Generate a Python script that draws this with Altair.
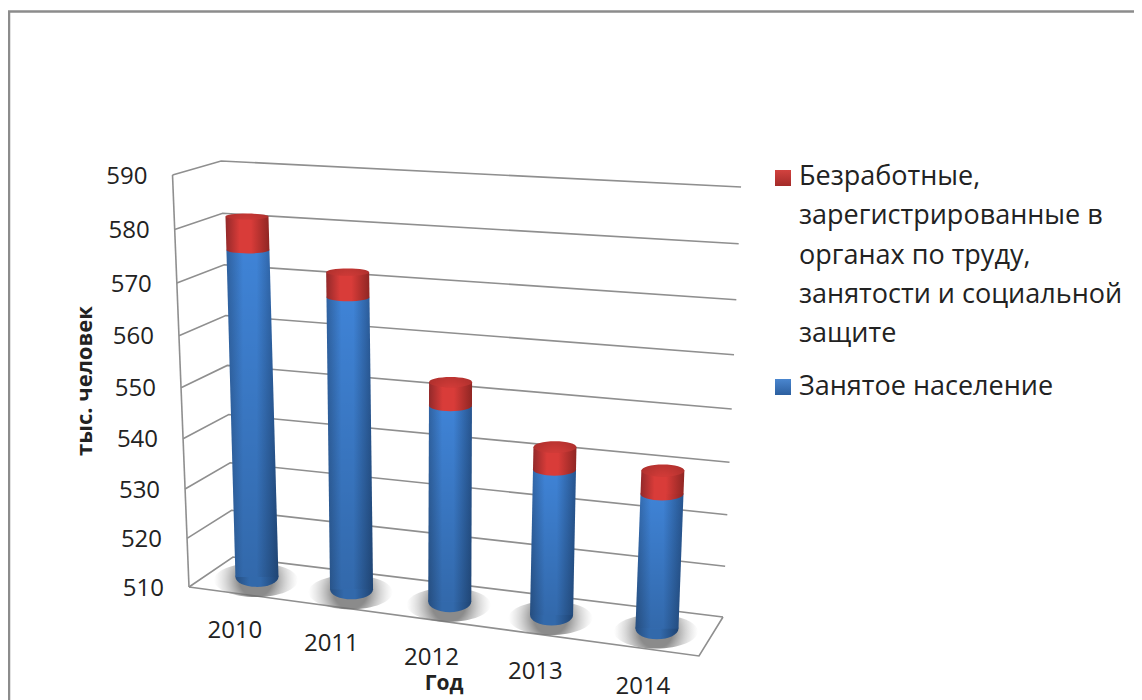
import altair as alt
import pandas as pd

# ---- chart values ----
YEARS = ["2010", "2011", "2012", "2013", "2014"]
EMPLOYED = [575.2, 567.7, 548.8, 538.6, 536.1]
UNEMPLOYED = [6.3, 4.7, 4.5, 4.3, 4.4]
TICKS = [510, 520, 530, 540, 550, 560, 570, 580, 590]
LEGEND_RED = ["Безработные,", "зарегистрированные в", "органах по труду,",
              "занятости и социальной", "защите"]
LEGEND_BLUE = ["Занятое население"]
Y_TITLE = "тыс. человек"
X_TITLE = "Год"

# ---- page and projection of the 3D box ----
W, H = 1126, 692
FONT = "Open Sans"
TXT = "#222222"
GRID = "#8f8f8f"
VMIN, VMAX = 510, 590
FL, FR, BL, BR = (189, 587), (699, 656), (233, 557), (723, 617)
HEIGHT = (412, 446, 396, 430)     # FL FR BL BR box height
LEAN = (-0.04, 0.05, -0.03, 0.042)
DEPTH = 0.5
RADIUS = 21.5


def bil(a, b, c, d, u, z):
    return (a * (1 - u) + b * u) * (1 - z) + (c * (1 - u) + d * u) * z


def warp_u(u):
    return u - 0.09 * u * (1 - u)


def warp_t(v):
    t = (v - VMIN) / (VMAX - VMIN)
    return t - 0.065 * t * (1 - t)


def project(u, z, v):
    fx = bil(FL[0], FR[0], BL[0], BR[0], u, z)
    fy = bil(FL[1], FR[1], BL[1], BR[1], u, z)
    h = bil(*HEIGHT, u, z) * warp_t(v)
    return fx + bil(*LEAN, u, z) * h, fy - h


def ellipse(k):
    return f"M-1,0A1,{k:.3f},0,1,1,1,0A1,{k:.3f},0,1,1,-1,0Z"


def ry_at(y):
    return 4 + (y - 220) / 60


# ---- tables ----
grid_rows = []
for v in TICKS:
    for i, (u, z) in enumerate([(0, 0), (0, 1), (1, 1)]):
        x, y = project(u, z, v)
        grid_rows.append(dict(id=f"g{v}", o=i, x=x, y=y))
for v_id, pts in [("floor", [(0, 0), (1, 0), (1, 1)])]:
    for i, (u, z) in enumerate(pts):
        x, y = project(u, z, VMIN)
        grid_rows.append(dict(id=v_id, o=i, x=x, y=y))
for i, v in enumerate([VMIN, VMAX]):
    x, y = project(0, 0, v)
    grid_rows.append(dict(id="axis", o=i, x=x, y=y))
grid = pd.DataFrame(grid_rows)

blue_rows, red_rows, base_rows, shadow_rows, mid_rows, cap_rows, cat_rows = [], [], [], [], [], [], []
for i, year in enumerate(YEARS):
    u = warp_u((i + 0.5) / len(YEARS))
    bx, by = project(u, DEPTH, VMIN)
    by -= 1
    mx, my = project(u, DEPTH, EMPLOYED[i])
    tx, ty = project(u, DEPTH, EMPLOYED[i] + UNEMPLOYED[i])
    for (x, y) in [(bx, by), (mx, my)]:
        blue_rows.append(dict(bar=year, y=y, xl=x - RADIUS, xr=x + RADIUS))
    for (x, y) in [(mx, my), (tx, ty)]:
        red_rows.append(dict(bar=year, y=y, xl=x - RADIUS, xr=x + RADIUS))
    base_rows.append(dict(x=bx, y=by, size=(2 * RADIUS) ** 2, shape=ellipse(ry_at(by) / RADIUS)))
    shadow_rows.append(dict(x=bx - 1, y=by + 3, size=(2 * 42) ** 2, shape=ellipse(17 / 42)))
    mid_rows.append(dict(x=mx, y=my, size=(2 * RADIUS) ** 2, shape=ellipse(0.75 * ry_at(my) / RADIUS)))
    cap_rows.append(dict(x=tx, y=ty, size=(2 * RADIUS) ** 2, shape=ellipse(0.75 * ry_at(ty) / RADIUS)))
    fx, fy = project(u, 0, VMIN)
    cat_rows.append(dict(x=fx - 1, y=fy + 38, t=year))

tick_rows = []
for v in TICKS:
    x, y = project(0, 0, v)
    tick_rows.append(dict(x=x - 25, y=y + 1.5, t=str(v)))

sx = alt.Scale(domain=[8, 8 + W], range=[0, W], nice=False, zero=False)
sy = alt.Scale(domain=[8, 8 + H], range=[0, H], nice=False, zero=False)
X = alt.X("x:Q", scale=sx, axis=None)
Y = alt.Y("y:Q", scale=sy, axis=None)


def hgrad(edge1, mid, edge2):
    return alt.LinearGradient(gradient="linear", x1=0, x2=1, y1=0, y2=0, stops=[
        alt.GradientStop(color=edge1, offset=0),
        alt.GradientStop(color=mid, offset=0.32),
        alt.GradientStop(color=mid, offset=0.58),
        alt.GradientStop(color=edge2, offset=1)])


def vgrad(top, bottom):
    return alt.LinearGradient(gradient="linear", x1=0, x2=0, y1=0, y2=1, stops=[
        alt.GradientStop(color=top, offset=0),
        alt.GradientStop(color=bottom, offset=1)])


BLUE = hgrad("#2f619f", "#3f83d6", "#27558f")
RED = hgrad("#93292a", "#d93c39", "#8f2623")
CAP = alt.RadialGradient(gradient="radial", x1=0.5, y1=0.85, r1=0, x2=0.5, y2=0.85, r2=0.75, stops=[
    alt.GradientStop(color="#e4413e", offset=0),
    alt.GradientStop(color="#a32c29", offset=1)])
SHADOW = alt.RadialGradient(gradient="radial", x1=0.5, y1=0.5, r1=0, x2=0.5, y2=0.5, r2=0.5, stops=[
    alt.GradientStop(color="rgba(110,110,110,0.8)", offset=0.4),
    alt.GradientStop(color="rgba(140,140,140,0.35)", offset=0.72),
    alt.GradientStop(color="rgba(170,170,170,0)", offset=1)])


def area(rows, fill):
    return alt.Chart(pd.DataFrame(rows)).mark_area(orient="horizontal", fill=fill, opacity=1).encode(
        x=alt.X("xl:Q", scale=sx, axis=None), x2="xr:Q", y=Y, detail="bar:N")


def blobs(rows, fill):
    return alt.Chart(pd.DataFrame(rows)).mark_point(filled=True, fill=fill, opacity=1, strokeWidth=0).encode(
        x=X, y=Y,
        size=alt.Size("size:Q", scale=None),
        shape=alt.Shape("shape:N", scale=None))


def texts(rows, size=22, align="left", weight="normal", angle=0):
    return alt.Chart(pd.DataFrame(rows)).mark_text(
        font=FONT, fontSize=size, align=align, baseline="middle", color=TXT,
        fontWeight=weight, angle=angle).encode(x=X, y=Y, text="t:N")


# frame: top and left edges only
frame = alt.Chart(pd.DataFrame([dict(id="f", o=0, x=9, y=H + 8), dict(id="f", o=1, x=9, y=11.5),
                                dict(id="f", o=2, x=W + 8, y=11.5)])).mark_line(
    color="#8c8c8c", strokeWidth=2.5).encode(x=X, y=Y, order="o:Q", detail="id:N")

lines = alt.Chart(grid).mark_line(color=GRID, strokeWidth=1.6).encode(
    x=X, y=Y, order="o:Q", detail="id:N")

legend_squares = alt.Chart(pd.DataFrame([
    dict(x=783, y=178, k="r")])).mark_square(size=256, fill=vgrad("#d2423f", "#a32b29"), opacity=1, strokeWidth=0).encode(x=X, y=Y)
legend_squares2 = alt.Chart(pd.DataFrame([
    dict(x=783, y=387, k="b")])).mark_square(size=256, fill=vgrad("#4a86cf", "#2c5f9f"), opacity=1, strokeWidth=0).encode(x=X, y=Y)

legend_rows = [dict(x=799, y=177 + 39.3 * i, t=s) for i, s in enumerate(LEGEND_RED)]
legend_rows += [dict(x=799, y=387, t=LEGEND_BLUE[0])]

shade = vgrad("rgba(0,0,0,0)", "rgba(0,0,0,0.2)")

chart = alt.layer(
    frame,
    lines,
    blobs(shadow_rows, SHADOW),
    blobs(base_rows, hgrad("#264e80", "#3269ab", "#1f4473")),
    area(blue_rows, BLUE),
    area(blue_rows, shade),
    blobs(mid_rows, RED),
    area(red_rows, RED),
    blobs(cap_rows, CAP),
    texts(tick_rows, size=24, align="right"),
    texts(cat_rows, size=24, align="center"),
    texts([dict(x=85, y=381, t=Y_TITLE)], size=22, align="center", weight="bold", angle=270),
    texts([dict(x=444, y=684, t=X_TITLE)], size=21, align="center", weight="bold"),
    legend_squares,
    legend_squares2,
    texts(legend_rows, size=27),
).properties(
    width=W, height=H, padding=0,
    autosize=alt.AutoSizeParams(type="none"),
    background="white",
).configure_view(stroke=None)

chart.save("out.html", embed_options={"renderer": "svg", "actions": False})
